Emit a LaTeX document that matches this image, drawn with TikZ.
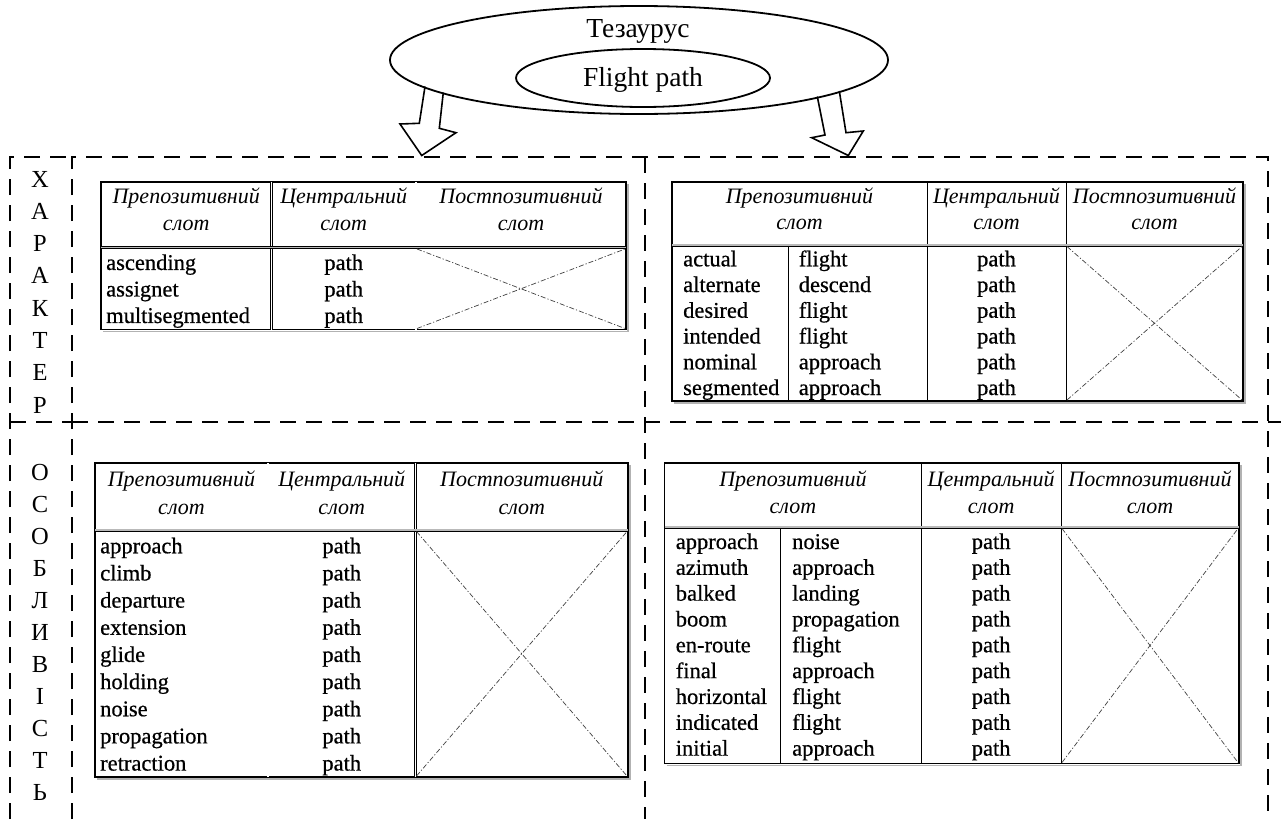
\documentclass[tikz,border=0pt]{standalone}
\usepackage{fontspec}
\setmainfont{Liberation Serif}
\newfontfamily\bodyf{Liberation Serif}[FakeBold=0.6]
\usetikzlibrary{shapes.geometric}
\begin{document}
\begin{tikzpicture}[x=1pt,y=-1pt,
  frame/.style={line width=2.3pt, dash pattern=on 16pt off 10pt},
  ell/.style={draw, ellipse, line width=1.8pt, inner sep=0pt},
  big/.style={font=\fontsize{27.5}{30}\selectfont, inner sep=0pt, anchor=mid, yshift=-5pt},
  blockarrow/.style={line width=1.6pt, line join=miter},
  tborder/.style={line width=1.5pt},
  tshade/.style={gray!60, line width=1.2pt},
  hdiv/.style={line width=0.8pt, double=gray!55, double distance=1.4pt},
  vdouble/.style={line width=0.7pt, double=white, double distance=1.4pt},
  vsingle/.style={line width=0.9pt},
  crossline/.style={line width=0.7pt, black!75, dash pattern=on 5pt off 2pt on 1.2pt off 2pt},
  body/.style={font=\bodyf\fontsize{22.5}{26}\selectfont, inner sep=0pt, yshift=-5pt},
  head/.style={font=\fontsize{22}{26}\selectfont\itshape, inner sep=0pt, anchor=mid, yshift=-5pt},
  vlet/.style={font=\fontsize{24.5}{28}\selectfont, inner sep=0pt}
]
\useasboundingbox (0,0) rectangle (1281,819);

% ---------- thesaurus ellipses ----------
\node[ell, minimum width=498pt, minimum height=108pt] (thes) at (639,60) {};
\node[big] (thesl) at (638,30) {Тезаурус};
\node[ell, minimum width=254pt, minimum height=58pt] (fp) at (643,78) {};
\node[big] (fpl) at (643,79) {Flight path};

% ---------- block arrows ----------
\draw[blockarrow] (425,86.5) -- (419.3,123.3) -- (400,124) -- (421.7,155.5) -- (456,132.7) -- (439.3,128.3) -- (443.3,92.5);
\draw[blockarrow] (817.3,96.5) -- (825,135) -- (811.7,137.7) -- (848.3,155.5) -- (863.3,131) -- (846,132.7) -- (839.3,91);

% ---------- dashed frames ----------
\draw[frame] (10,819) -- (10,157) -- (72,157);
\draw[frame] (72,819) -- (72,157) -- (1268,157) -- (1268,819);
\draw[frame] (645,157) -- (645,819);
\draw[frame] (10,422) -- (72,422);
\draw[frame] (72,422) -- (1281,422);

% ---------- vertical words ----------
\foreach \l [count=\k from 0] in {Х,А,Р,А,К,Т,Е,Р}
  \node[vlet] (top-\k) at (40,{179+\k*32.3}) {\l};
\foreach \l [count=\k from 0] in {О,С,О,Б,Л,И,В,І,С,Т,Ь}
  \node[vlet] (bot-\k) at (40,{473+\k*31.9}) {\l};

% ---------- Table A (left top) ----------
\draw[tshade] (103,331.5) -- (628,331.5) -- (628,184);
\draw[tborder] (101,182) rectangle (626,329.5);
\draw[vdouble] (271.5,182) -- (271.5,329.5);
\draw[vdouble] (416,182) -- (416,329.5);
\draw[hdiv] (101,247.5) -- (626,247.5);
\draw[crossline] (417,249) -- (625,328.5) (417,328.5) -- (625,249);
\node[head] (A-h1a) at (186.25,196.7) {Препозитивний};
\node[head] (A-h1b) at (186.25,223.3) {слот};
\node[head] (A-h2a) at (343.75,196.7) {Центральний};
\node[head] (A-h2b) at (343.75,223.3) {слот};
\node[head] (A-h3a) at (521,196.7) {Постпозитивний};
\node[head] (A-h3b) at (521,223.3) {слот};
\foreach \w [count=\k from 0] in {ascending,assignet,multisegmented}{
  \node[body, anchor=mid west] (A-w-\k) at (106,{262.7+\k*26.5}) {\w};
  \node[body, anchor=mid] (A-p-\k) at (343.75,{262.7+\k*26.5}) {path};
}

% ---------- Table B (right top) ----------
\draw[tshade] (674,403) -- (1245,403) -- (1245,184);
\draw[tborder] (672,182) rectangle (1243,401);
\draw[vsingle] (788,245) -- (788,401);
\draw[vsingle] (927,182) -- (927,401);
\draw[vsingle] (1066,182) -- (1066,401);
\draw[hdiv] (672,245) -- (1243,245);
\draw[crossline] (1067,246.5) -- (1242,400) (1067,400) -- (1242,246.5);
\node[head] (B-h1a) at (799.5,196.7) {Препозитивний};
\node[head] (B-h1b) at (799.5,222.7) {слот};
\node[head] (B-h2a) at (996.5,196.7) {Центральний};
\node[head] (B-h2b) at (996.5,222.7) {слот};
\node[head] (B-h3a) at (1154.5,196.7) {Постпозитивний};
\node[head] (B-h3b) at (1154.5,222.7) {слот};
\foreach \a/\b [count=\k from 0] in {actual/flight,alternate/descend,desired/flight,intended/flight,nominal/approach,segmented/approach}{
  \node[body, anchor=mid west] (B-a-\k) at (683,{259+\k*25.74}) {\a};
  \node[body, anchor=mid west] (B-b-\k) at (798.6,{259+\k*25.74}) {\b};
  \node[body, anchor=mid] (B-p-\k) at (996.5,{259+\k*25.74}) {path};
}

% ---------- Table C (left bottom) ----------
\draw[tshade] (97,779) -- (630,779) -- (630,465);
\draw[tborder] (95,463) rectangle (628,777);
\draw[vdouble] (268,463) -- (268,777);
\draw[vdouble] (415.5,463) -- (415.5,777);
\draw[hdiv] (95,530) -- (628,530);
\draw[crossline] (416.5,531.5) -- (627,776) (416.5,776) -- (627,531.5);
\node[head] (C-h1a) at (181.5,479.3) {Препозитивний};
\node[head] (C-h1b) at (181.5,507.3) {слот};
\node[head] (C-h2a) at (341.75,479.3) {Центральний};
\node[head] (C-h2b) at (341.75,507.3) {слот};
\node[head] (C-h3a) at (521.75,479.3) {Постпозитивний};
\node[head] (C-h3b) at (521.75,507.3) {слот};
\foreach \w [count=\k from 0] in {approach,climb,departure,extension,glide,holding,noise,propagation,retraction}{
  \node[body, anchor=mid west] (C-w-\k) at (100,{546+\k*27.16}) {\w};
  \node[body, anchor=mid] (C-p-\k) at (341.75,{546+\k*27.16}) {path};
}

% ---------- Table D (right bottom) ----------
\draw[tshade] (666.5,765.5) -- (1241,765.5) -- (1241,465);
\draw[tborder] (664.5,463) rectangle (1239,763.5);
\draw[vsingle] (780,527) -- (780,763.5);
\draw[vsingle] (921.3,463) -- (921.3,763.5);
\draw[vsingle] (1061,463) -- (1061,763.5);
\draw[hdiv] (664.5,527) -- (1239,527);
\draw[crossline] (1062,528.5) -- (1238,762.5) (1062,762.5) -- (1238,528.5);
\node[head] (D-h1a) at (792.9,479.3) {Препозитивний};
\node[head] (D-h1b) at (792.9,506) {слот};
\node[head] (D-h2a) at (991.15,479.3) {Центральний};
\node[head] (D-h2b) at (991.15,506) {слот};
\node[head] (D-h3a) at (1150,479.3) {Постпозитивний};
\node[head] (D-h3b) at (1150,506) {слот};
\foreach \a/\b [count=\k from 0] in {approach/noise,azimuth/approach,balked/landing,boom/propagation,en-route/flight,final/approach,horizontal/flight,indicated/flight,initial/approach}{
  \node[body, anchor=mid west] (D-a-\k) at (675.6,{541.7+\k*25.83}) {\a};
  \node[body, anchor=mid west] (D-b-\k) at (792,{541.7+\k*25.83}) {\b};
  \node[body, anchor=mid] (D-p-\k) at (991.15,{541.7+\k*25.83}) {path};
}
\end{tikzpicture}
\end{document}
